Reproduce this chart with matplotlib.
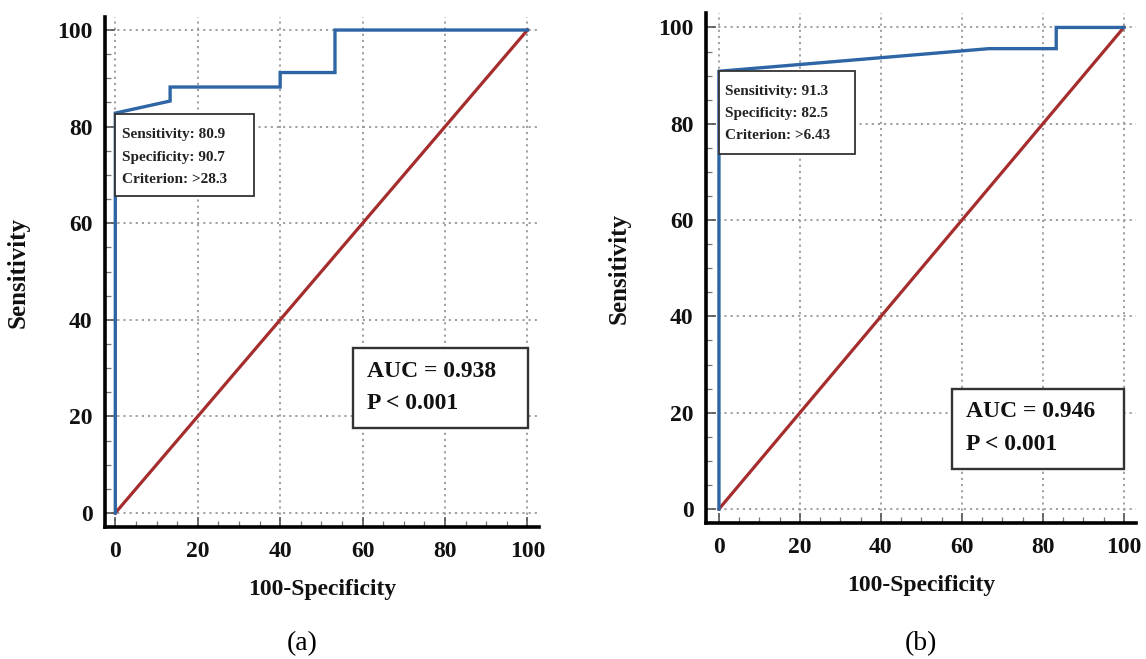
import matplotlib
matplotlib.use("Agg")
import matplotlib.pyplot as plt
from matplotlib.patches import Rectangle
from matplotlib.ticker import MultipleLocator

# ---- data ----
roc_a_x = [0, 0, 13.3, 13.3, 40, 40, 53.3, 53.3, 100]
roc_a_y = [0, 82.8, 85.3, 88.2, 88.2, 91.2, 91.2, 100, 100]
roc_b_x = [0, 0, 66.7, 83.3, 83.3, 100]
roc_b_y = [0, 90.9, 95.6, 95.6, 100, 100]
diag = [0, 100]
ticks = [0, 20, 40, 60, 80, 100]
info_a = ["Sensitivity: 80.9", "Specificity: 90.7", "Criterion: >28.3"]
info_b = ["Sensitivity: 91.3", "Specificity: 82.5", "Criterion: >6.43"]
auc_a = ["AUC = 0.938", "P < 0.001"]
auc_b = ["AUC = 0.946", "P < 0.001"]
panel_labels = ["(a)", "(b)"]

W, H = 1146, 659
fig = plt.figure(figsize=(W / 100, H / 100), dpi=100)
serif = "Liberation Serif"
blue = "#2d65a5"
red = "#a52d2d"


def ax_rect(l, t, r, b):
    return [l / W, 1 - b / H, (r - l) / W, (b - t) / H]


def panel(rect, xs, ys, info, info_box, auc, auc_box, label, label_x, xlim, ylim):
    ax = fig.add_axes(ax_rect(*rect))
    ax.set_xlim(*xlim)
    ax.set_ylim(*ylim)
    for s in ["top", "right"]:
        ax.spines[s].set_visible(False)
    for s in ["left", "bottom"]:
        ax.spines[s].set_linewidth(2.6)
        ax.spines[s].set_color("black")
    ax.set_xticks(ticks)
    ax.set_yticks(ticks)
    ax.xaxis.set_minor_locator(MultipleLocator(5))
    ax.yaxis.set_minor_locator(MultipleLocator(5))
    ax.tick_params(which="major", direction="in", length=7, width=1.2,
                   color="#555555", labelsize=17)
    ax.tick_params(axis="x", which="major", pad=10)
    ax.tick_params(axis="y", which="major", pad=9)
    ax.tick_params(which="minor", direction="in", length=4, width=0.9,
                   color="#777777")
    for lab in ax.get_xticklabels() + ax.get_yticklabels():
        lab.set_fontfamily(serif)
        lab.set_fontweight("bold")
        lab.set_color("#111111")
    ax.grid(True, which="major", linestyle=(0, (1.2, 2.2)), color="#999999",
            linewidth=1.3)
    ax.set_axisbelow(True)
    ax.plot(diag, diag, color=red, lw=2.3, zorder=3)
    ax.plot(xs, ys, color=blue, lw=2.4, zorder=4, solid_joinstyle="miter")
    ax.set_xlabel("100-Specificity", fontfamily=serif, fontweight="bold",
                  fontsize=17, labelpad=12, color="#111111")
    ax.set_ylabel("Sensitivity", fontfamily=serif, fontweight="bold",
                  fontsize=18, labelpad=20, color="#111111")
    # info box
    x0, y0, x1, y1 = info_box
    ax.add_patch(Rectangle((x0, y0), x1 - x0, y1 - y0, facecolor="white",
                           edgecolor="#333333", lw=1.3, zorder=5))
    for i, t in enumerate(info):
        ax.text(x0 + 1.6, y1 - 4.3 - i * 4.6, t, fontfamily=serif,
                fontweight="bold", fontsize=11, color="#222222",
                va="center", ha="left", zorder=6)
    # auc box
    x0, y0, x1, y1 = auc_box
    ax.add_patch(Rectangle((x0, y0), x1 - x0, y1 - y0, facecolor="white",
                           edgecolor="#333333", lw=1.7, zorder=5))
    for i, t in enumerate(auc):
        ax.text(x0 + 3.5, y1 - 4.8 - i * 6.8, t, fontfamily=serif,
                fontweight="bold", fontsize=17, color="#111111",
                va="center", ha="left", zorder=6)
    fig.text(label_x / W, 1 - 644 / H, label, fontfamily=serif,
             fontsize=20, ha="center", va="center")
    return ax


panel((105, 17, 539, 527), roc_a_x, roc_a_y, info_a, (0, 65.6, 33.6, 82.6),
      auc_a, (57.6, 17.6, 100.2, 34.2), panel_labels[0], 302,
      (-2.5, 102.8), (-2.9, 102.7))
panel((706, 13, 1136, 523), roc_b_x, roc_b_y, info_b, (0, 73.8, 33.6, 91.0),
      auc_b, (57.5, 8.3, 100.0, 25.0), panel_labels[1], 921,
      (-3.2, 103.0), (-2.9, 103.0))

fig.savefig("out.png", dpi=100, facecolor="white")
